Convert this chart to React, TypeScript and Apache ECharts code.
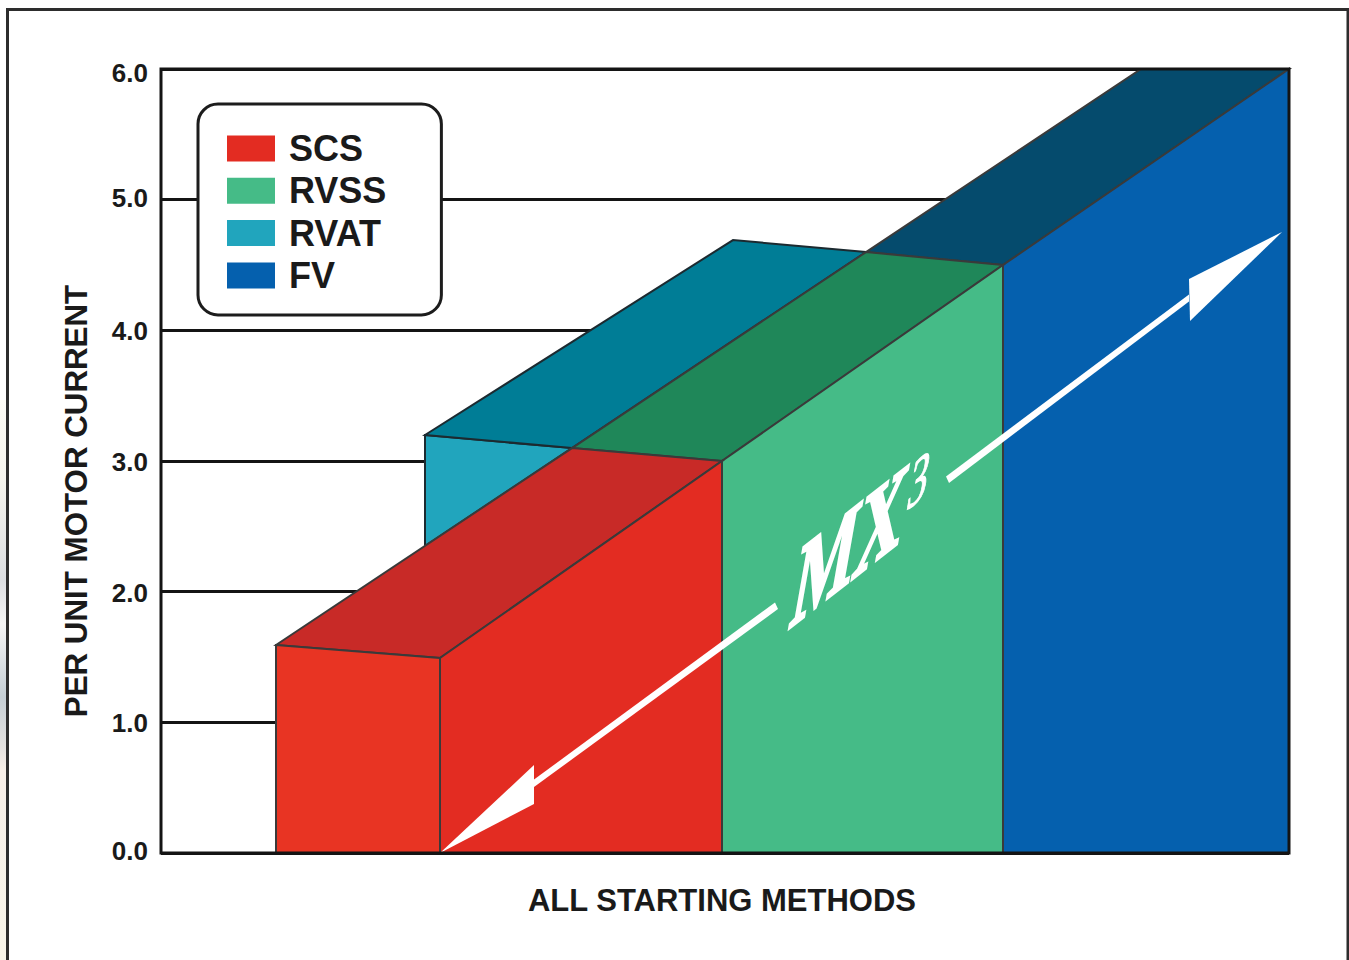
import React, { useEffect, useRef } from "react";
import * as echarts from "echarts";

type Pt = number[];
type Face = { points: Pt[]; fill: string };

const legendNames = ["SCS", "RVSS", "RVAT", "FV"];
const yTicks = [0, 1, 2, 3, 4, 5, 6];
const yAxisTitle = "PER UNIT MOTOR CURRENT";
const xAxisTitle = "ALL STARTING METHODS";

const scsFront: Pt[] = [[115, 0], [115, 1.592], [279, 1.492], [279, 0]];
const scsSide: Pt[] = [[279, 0], [279, 1.492], [561, 3.0], [561, 0]];
const scsTop: Pt[] = [[115, 1.592], [411, 3.099], [561, 3.0], [279, 1.492]];
const rvssFront: Pt[] = [[561, 0], [561, 3.0], [842, 4.5], [842, 0]];
const rvssTop: Pt[] = [[411, 3.099], [705, 4.599], [842, 4.5], [561, 3.0]];
const rvatFront: Pt[] = [[264, 2.349], [264, 3.199], [411, 3.099]];
const rvatTop: Pt[] = [[264, 3.199], [572, 4.691], [705, 4.599], [411, 3.099]];
const fvFront: Pt[] = [[842, 0], [842, 4.5], [1128, 6], [1128, 0]];
const fvTop: Pt[] = [[705, 4.599], [980, 6], [1128, 6], [842, 4.5]];

const arrowLowHead: Pt[] = [[279, 0], [373, 0.673], [373, 0.375]];
const arrowLowShaft: Pt[] = [[373, 0.562], [614, 1.917], [617, 1.867], [373, 0.505]];
const arrowHighHead: Pt[] = [[1121, 4.752], [1028, 4.393], [1029, 4.071]];
const arrowHighShaft: Pt[] = [[785, 2.881], [1028, 4.274], [1028, 4.221], [788, 2.832]];
const plotFrame: Pt[] = [[0, 0], [0, 6], [1128, 6], [1128, 0]];

const EDGE = "#3a3a3a";

function polySeries(name: string, color: string, faces: Face[], stroke: string | null, strokeWidth = 2) {
  return {
    type: "custom",
    name,
    coordinateSystem: "cartesian2d",
    clip: false,
    silent: true,
    itemStyle: { color },
    data: faces.map((_, i) => [i]),
    renderItem: (_p: any, api: any) => {
      const face = faces[api.value(0)];
      return {
        type: "polygon",
        shape: { points: face.points.map((p) => api.coord(p)) },
        style: {
          fill: face.fill,
          stroke: stroke || undefined,
          lineWidth: stroke ? strokeWidth : 0,
          lineJoin: "miter",
        },
      };
    },
  };
}

const font = "Liberation Sans";
const tickStyle = { fontFamily: font, fontWeight: "bold", fontSize: 26, color: "#1a1a1a" };
const mxAngle = (38 * Math.PI) / 180;
const mxSkew = (-48 * Math.PI) / 180;

export default function App() {
  const ref = useRef<HTMLDivElement>(null);
  useEffect(() => {
    const chart = echarts.init(ref.current!, undefined, { renderer: "svg" });
    chart.setOption({
      animation: false,
      backgroundColor: "#ffffff",
      grid: { left: 161, right: 60, top: 69, bottom: 107, containLabel: false },
      legend: {
        data: legendNames,
        orient: "vertical",
        left: 198,
        top: 104,
        icon: "rect",
        itemWidth: 48,
        itemHeight: 26,
        itemGap: 5.3,
        padding: [26, 55, 21, 29],
        backgroundColor: "#ffffff",
        borderColor: "#1c1c1c",
        borderWidth: 3,
        borderRadius: 20,
        selectedMode: false,
        itemStyle: { borderWidth: 0 },
        textStyle: {
          fontFamily: font,
          fontWeight: "bold",
          fontSize: 36,
          lineHeight: 37,
          color: "#1a1a1a",
          padding: [0, 0, 0, 9],
        },
      },
      xAxis: {
        type: "value",
        min: 0,
        max: 1128,
        axisLine: { show: false },
        axisTick: { show: false },
        axisLabel: { show: false },
        splitLine: { show: false },
        name: xAxisTitle,
        nameLocation: "middle",
        nameGap: 32,
        nameTextStyle: {
          fontFamily: font,
          fontWeight: "bold",
          fontSize: 31,
          color: "#1a1a1a",
          padding: [0, 6, 0, 0],
        },
      },
      yAxis: {
        type: "value",
        min: 0,
        max: 6,
        interval: 1,
        axisLine: { show: false },
        axisTick: { show: false },
        splitLine: { show: true, lineStyle: { color: "#141414", width: 3 } },
        axisLabel: {
          margin: 13,
          customValues: yTicks,
          formatter: (v: number) =>
            v === 6
              ? `{top|${v.toFixed(1)}}`
              : v === 0 || v === 5
                ? `{bot|${v.toFixed(1)}}`
                : `{mid|${v.toFixed(1)}}`,
          rich: {
            top: { ...tickStyle, padding: [8, 0, 0, 0] },
            mid: { ...tickStyle, padding: [2, 0, 0, 0] },
            bot: { ...tickStyle, padding: [0, 0, 4, 0] },
          },
        },
        name: yAxisTitle,
        nameLocation: "middle",
        nameGap: 69,
        nameTextStyle: {
          fontFamily: font,
          fontWeight: "bold",
          fontSize: 31.3,
          color: "#1a1a1a",
          padding: [0, 80, 0, 0],
        },
      },
      series: [
        polySeries("RVAT", "#21a5bd", [
          { points: rvatFront, fill: "#21a5bd" },
          { points: rvatTop, fill: "#007d96" },
        ], "#1c2a30"),
        polySeries("FV", "#0560ae", [
          { points: fvTop, fill: "#054b6d" },
          { points: fvFront, fill: "#0560ae" },
        ], EDGE),
        polySeries("RVSS", "#45bb87", [
          { points: rvssTop, fill: "#1f8759" },
          { points: rvssFront, fill: "#45bb87" },
        ], EDGE),
        polySeries("SCS", "#e32c22", [
          { points: scsTop, fill: "#c82a27" },
          { points: scsSide, fill: "#e32c22" },
          { points: scsFront, fill: "#e83423" },
        ], EDGE),
        polySeries("MX3 arrows", "#ffffff", [
          { points: arrowLowShaft, fill: "#ffffff" },
          { points: arrowLowHead, fill: "#ffffff" },
          { points: arrowHighShaft, fill: "#ffffff" },
          { points: arrowHighHead, fill: "#ffffff" },
        ], null),
        polySeries("frame", "#141414", [{ points: plotFrame, fill: "none" }], "#141414", 3),
      ],
      graphic: [
        {
          type: "rect",
          z: -11,
          silent: true,
          shape: { x: 0, y: 400, width: 6, height: 560 },
          style: {
            fill: {
              type: "linear",
              x: 0,
              y: 0,
              x2: 0,
              y2: 1,
              colorStops: [
                { offset: 0, color: "#fcfbf5" },
                { offset: 0.14, color: "#f6f5ee" },
                { offset: 0.32, color: "#dcdee1" },
                { offset: 0.4, color: "#f5f5f5" },
                { offset: 0.53, color: "#c6cfd5" },
                { offset: 0.62, color: "#e4e2e0" },
                { offset: 0.66, color: "#f7efe8" },
                { offset: 1, color: "#f8f5e9" },
              ],
            },
          },
        },
        {
          type: "rect",
          z: -10,
          silent: true,
          shape: { x: 7.5, y: 9.5, width: 1340.5, height: 1000 },
          style: { fill: "none", stroke: "#2d2d2d", lineWidth: 3 },
        },
        {
          type: "text",
          z: 50,
          silent: true,
          x: 806,
          y: 526,
          rotation: mxAngle,
          skewX: mxSkew,
          style: {
            text: "MX",
            fontFamily: "Liberation Serif",
            fontWeight: "bold",
            fontSize: 84,
            fill: "#ffffff",
            stroke: "#ffffff",
            lineWidth: 2.5,
          },
        },
        {
          type: "text",
          z: 50,
          silent: true,
          x: 916,
          y: 450,
          rotation: mxAngle,
          skewX: mxSkew,
          style: {
            text: "3",
            fontFamily: "Liberation Serif",
            fontSize: 50,
            fill: "#ffffff",
            stroke: "#ffffff",
            lineWidth: 1,
          },
        },
      ],
    });
    return () => chart.dispose();
  }, []);
  return <div ref={ref} style={{ position: "fixed", left: 0, top: 0, width: 1349, height: 960 }} />;
}
